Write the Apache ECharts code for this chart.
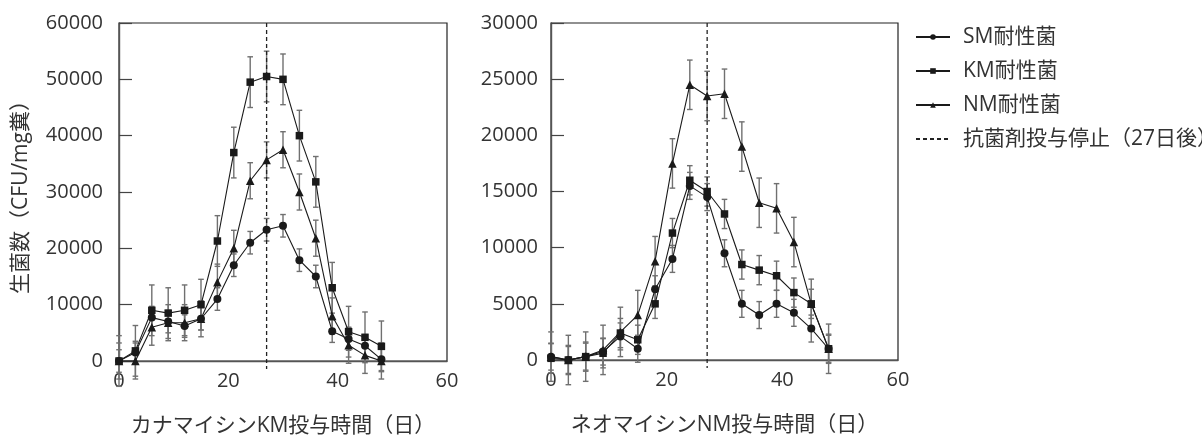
<!DOCTYPE html>
<html>
<head>
<meta charset="utf-8">
<script src="https://cdn.jsdelivr.net/npm/echarts@6/dist/echarts.min.js"></script>
<style>html,body{margin:0;padding:0;background:#fff}#c{width:1202px;height:439px}</style>
</head>
<body>
<div id="c"></div>
<script>
// ---- data ----
const days = [0,3,6,9,12,15,18,21,24,27,30,33,36,39,42,45,48];
const stopDay = 27;
const seriesNames = ['SM耐性菌','KM耐性菌','NM耐性菌'];
const stopName = '抗菌剤投与停止（27日後）';
// Left panel: kanamycin (KM) administration
const kmSM = [0,1500,7700,7000,6200,7500,11000,17000,21000,23300,24000,17900,15000,5300,3900,2700,300];
const kmKM = [0,1800,9000,8500,9000,10000,21300,37000,49500,50500,50000,40000,31800,13000,5200,4200,2600];
const kmNM = [0,0,6000,6800,6800,7500,14000,20000,32000,35700,37500,30000,21800,8000,2800,1000,0];
const kmSMerr = [2000,2000,2000,2000,2000,2000,2000,2000,2000,2000,2000,2000,2000,2000,2000,2000,2000];
const kmKMerr = [4500,4500,4500,4500,4500,4500,4500,4500,4500,4500,4500,4500,4500,4500,4500,4500,4500];
const kmNMerr = [3200,3200,3200,3200,3200,3200,3200,3200,3200,3200,3200,3200,3200,3200,3200,3200,3200];
// Right panel: neomycin (NM) administration
const nmSM = [300,0,300,750,2100,1000,6300,9000,15500,14500,9500,5000,4000,5000,4200,2800,1000];
const nmKM = [150,0,300,600,2400,1800,5000,11300,16000,15000,13000,8500,8000,7500,6000,5000,1000];
const nmNM = [300,0,300,900,2500,4000,8800,17500,24500,23500,23700,19000,14000,13500,10500,5000,1000];
const nmSMerr = [1200,1200,1200,1200,1200,1200,1200,1200,1200,1200,1200,1200,1200,1200,1200,1200,1200];
const nmKMerr = [1300,1300,1300,1300,1300,1300,1300,1300,1300,1300,1300,1300,1300,1300,1300,1300,1300];
const nmNMerr = [2200,2200,2200,2200,2200,2200,2200,2200,2200,2200,2200,2200,2200,2200,2200,2200,2200];
const leftXLabel = 'カナマイシンKM投与時間（日）';
const rightXLabel = 'ネオマイシンNM投与時間（日）';
const yLabel = '生菌数（CFU/mg糞）';

// ---- chart ----
const FONT = '"Open Sans", "Noto Sans CJK JP", sans-serif';
const TXT = '#333';
const symbols = ['circle','rect','triangle'];
const symSizes = [8,7.5,8.5];

function pairs(ys){ return days.map((d,i)=>[d, ys[i]]); }
function errData(ys, es){ return days.map((d,i)=>[d, ys[i], es[i]]); }

function errSeries(ys, es, gi){
  return {
    type:'custom', xAxisIndex:gi, yAxisIndex:gi, z:1, silent:true,
    data: errData(ys, es),
    renderItem: function(params, api){
      const x = api.value(0), y = api.value(1), e = api.value(2);
      const top = api.coord([x, y + e]);
      const bot = api.coord([x, y - e]);
      const w = 2.8;
      const st = {stroke:'#707070', lineWidth:1.4};
      return {type:'group', children:[
        {type:'line', shape:{x1:top[0], y1:top[1], x2:bot[0], y2:bot[1]}, style:st},
        {type:'line', shape:{x1:top[0]-w, y1:top[1], x2:top[0]+w, y2:top[1]}, style:st},
        {type:'line', shape:{x1:bot[0]-w, y1:bot[1], x2:bot[0]+w, y2:bot[1]}, style:st}
      ]};
    }
  };
}
function lineSeries(name, ys, k, gi){
  return {
    type:'line', name:name, xAxisIndex:gi, yAxisIndex:gi, z:3,
    data: pairs(ys), symbol: symbols[k], symbolSize: symSizes[k],
    showAllSymbol:true, clip:false,
    lineStyle:{color:'#1a1a1a', width:1.1},
    itemStyle:{color:'#1a1a1a'},
    emphasis:{disabled:true}
  };
}
function stopSeries(gi){
  return {
    type:'custom', xAxisIndex:gi, yAxisIndex:gi, z:2, silent:true,
    data:[[stopDay, 0]],
    renderItem: function(params, api){
      const p = api.coord([api.value(0), 0]);
      const cs = params.coordSys;
      return {type:'line', shape:{x1:p[0], y1:cs.y, x2:p[0], y2:cs.y + cs.height + 8},
        style:{stroke:'#222', lineWidth:1.3, lineDash:[4,3]}};
    }
  };
}
function xAxis(gi, name){
  return {
    type:'value', gridIndex:gi, min:0, max:60, interval:20,
    name:name, nameLocation:'middle', nameGap:55,
    nameTextStyle:{fontFamily:FONT, fontSize:21, color:TXT},
    axisLine:{show:true, lineStyle:{color:'#555', width:1.4}},
    axisTick:{show:false}, splitLine:{show:false},
    axisLabel:{fontFamily:FONT, fontSize:20, color:TXT, margin:10}
  };
}
function yAxis(gi, max, interval, name, margin){
  return {
    type:'value', gridIndex:gi, min:0, max:max, interval:interval,
    name:name, nameLocation:'middle', nameGap:87, nameRotate:90,
    nameTextStyle:{fontFamily:FONT, fontSize:21, color:TXT},
    axisLine:{show:true, lineStyle:{color:'#555', width:1.4}},
    axisTick:{show:true, inside:true, length:13, lineStyle:{color:'#444', width:1.2}},
    splitLine:{show:false},
    axisLabel:{fontFamily:FONT, fontSize:20, color:TXT, margin:margin, formatter:v=>String(v)}
  };
}

const chart = echarts.init(document.getElementById('c'), null, {renderer:'canvas'});
chart.setOption({
  animation:false,
  backgroundColor:'#fff',
  grid:[
    {left:119, right:755, top:23, bottom:78, outerBoundsMode:'none', containLabel:false, show:true, borderColor:'#222', borderWidth:1.2, backgroundColor:'transparent'},
    {left:551, right:304, top:23, bottom:79, outerBoundsMode:'none', containLabel:false, show:true, borderColor:'#222', borderWidth:1.2, backgroundColor:'transparent'}
  ],
  xAxis:[xAxis(0, leftXLabel), xAxis(1, rightXLabel)],
  yAxis:[yAxis(0, 60000, 10000, yLabel, 16), yAxis(1, 30000, 5000, '', 13)],
  legend:{
    orient:'vertical', left:910, top:21,
    itemWidth:34, itemHeight:7, itemGap:12,
    data:[...seriesNames, stopName],
    textStyle:{fontFamily:FONT, fontSize:21, color:TXT, lineHeight:22, padding:[0,0,0,8]},
    selectedMode:false
  },
  series:[
    errSeries(kmSM, kmSMerr, 0), errSeries(kmKM, kmKMerr, 0), errSeries(kmNM, kmNMerr, 0),
    errSeries(nmSM, nmSMerr, 1), errSeries(nmKM, nmKMerr, 1), errSeries(nmNM, nmNMerr, 1),
    stopSeries(0), stopSeries(1),
    lineSeries(seriesNames[0], kmSM, 0, 0), lineSeries(seriesNames[1], kmKM, 1, 0), lineSeries(seriesNames[2], kmNM, 2, 0),
    lineSeries(seriesNames[0], nmSM, 0, 1), lineSeries(seriesNames[1], nmKM, 1, 1), lineSeries(seriesNames[2], nmNM, 2, 1),
    {type:'line', name:stopName, xAxisIndex:0, yAxisIndex:0, data:[], symbol:'none', symbolSize:0,
     lineStyle:{type:[4,3], color:'#222', width:1.2}, itemStyle:{color:'#222', opacity:0}}
  ]
});
</script>
</body>
</html>
